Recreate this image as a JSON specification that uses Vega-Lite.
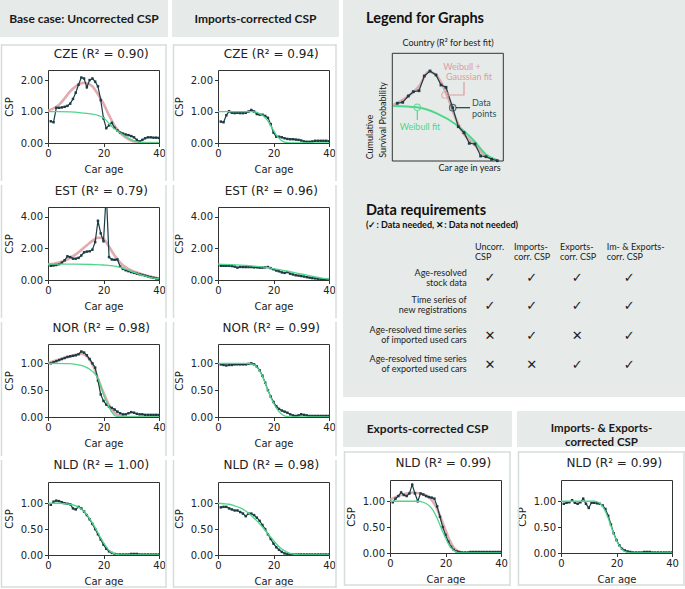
{
"$schema": "https://vega.github.io/schema/vega-lite/v6.json",
"padding": 0,
"background": "white",
"spacing": 4,
"hconcat": [
{"spacing": 0, "vconcat": [
 {"width":120,"height":42,"view":{"stroke":null},"data":{"values":[{"t":"Base case: Uncorrected CSP"}]},
  "encoding":{"y":{"datum":0.5595,"type":"quantitative","scale":{"domain":[0,1],"nice":false},"axis":null}},
  "layer":[
   {"mark":{"type":"rect","color":"#e6ebe9"},"encoding":{"x":{"datum":-48,"type":"quantitative","scale":{"domain":[0,120],"nice":false,"zero":false},"axis":null},"x2":{"datum":120},"y":{"datum":1,"type":"quantitative"},"y2":{"datum":0.119}}},
   {"mark":{"type":"text","font":"Lato","fontWeight":"bold","fontSize":12,"color":"#1a1a1a","baseline":"middle"},"encoding":{"x":{"datum":36,"type":"quantitative"},"text":{"field":"t"}}}
  ]},
 {"width":111,"height":73,
  "encoding":{"x":{"type":"quantitative","scale":{"domain":[0,40],"nice":false},"axis":{"values":[0,20,40],"title":"Car age"}},
   "y":{"type":"quantitative","scale":{"domain":[0,2.32],"nice":false},"axis":{"values":[0,1,2],"format":".2f","title":"CSP"}}},
  "layer":[
   {"data":{"values":[{}]},"mark":{"type":"rule","color":"#d6dedb","strokeWidth":1.5},"encoding":{"x":{"datum":-16.76},"y":{"datum":3.146},"y2":{"datum":-1.208}}},
   {"data":{"values":[{}]},"mark":{"type":"rule","color":"#d6dedb","strokeWidth":1.5},"encoding":{"x":{"datum":42.52},"y":{"datum":3.146},"y2":{"datum":-1.208}}},
   {"data":{"values":[{}]},"mark":{"type":"rule","color":"#d6dedb","strokeWidth":1.5},"encoding":{"x":{"datum":-16.76},"x2":{"datum":42.52},"y":{"datum":3.115}}},
   {"data":{"values":[{}]},"mark":{"type":"text","font":"DejaVu Sans","fontSize":12,"color":"#222222","baseline":"middle"},"encoding":{"x":{"datum":19.2},"y":{"datum":2.844},"text":{"value":"CZE (R² = 0.90)"}}},
   {"data":{"values":[{"a":0,"v":1.03},{"a":2,"v":1.1},{"a":4,"v":1.22},{"a":6,"v":1.42},{"a":8,"v":1.64},{"a":10,"v":1.8},{"a":12,"v":1.9},{"a":13,"v":1.91},{"a":14,"v":1.9},{"a":16,"v":1.8},{"a":18,"v":1.55},{"a":20,"v":1.25},{"a":22,"v":0.88},{"a":24,"v":0.55},{"a":26,"v":0.32},{"a":28,"v":0.18},{"a":30,"v":0.08},{"a":32,"v":0.03},{"a":34,"v":0.01},{"a":36,"v":0},{"a":40,"v":0}]},"mark":{"type":"line","color":"#dc9ca1","strokeWidth":2.6,"opacity":0.85,"clip":true,"interpolate":"monotone"},"encoding":{"x":{"field":"a"},"y":{"field":"v"}}},
   {"data":{"values":[{"a":1,"v":0.69},{"a":2,"v":0.66},{"a":3,"v":1.12},{"a":4,"v":1.12},{"a":5,"v":1.13},{"a":6,"v":1.15},{"a":7,"v":1.18},{"a":8,"v":1.25},{"a":9,"v":1.4},{"a":10,"v":1.6},{"a":11,"v":1.85},{"a":12,"v":2.08},{"a":13,"v":2.05},{"a":14,"v":1.77},{"a":15,"v":2.0},{"a":16,"v":2.05},{"a":17,"v":1.95},{"a":18,"v":1.8},{"a":19,"v":1.36},{"a":20,"v":0.78},{"a":21,"v":0.47},{"a":22,"v":0.56},{"a":23,"v":0.64},{"a":24,"v":0.48},{"a":25,"v":0.4},{"a":26,"v":0.33},{"a":27,"v":0.3},{"a":28,"v":0.27},{"a":29,"v":0.25},{"a":30,"v":0.22},{"a":31,"v":0.18},{"a":32,"v":0.1},{"a":33,"v":0.05},{"a":34,"v":0.1},{"a":35,"v":0.15},{"a":36,"v":0.18},{"a":37,"v":0.18},{"a":38,"v":0.17},{"a":39,"v":0.17},{"a":40,"v":0.16}]},"mark":{"type":"line","color":"#1b3c44","strokeWidth":1.2,"clip":true,"point":{"filled":true,"size":6,"shape":"square","color":"#1b3c44","clip":true}},"encoding":{"x":{"field":"a"},"y":{"field":"v"}}},
   {"data":{"values":[{"a":0,"v":1},{"a":4,"v":1},{"a":8,"v":0.99},{"a":12,"v":0.96},{"a":14,"v":0.94},{"a":16,"v":0.92},{"a":18,"v":0.88},{"a":20,"v":0.8},{"a":22,"v":0.62},{"a":23,"v":0.52},{"a":24,"v":0.45},{"a":26,"v":0.32},{"a":28,"v":0.2},{"a":30,"v":0.11},{"a":32,"v":0.04},{"a":34,"v":0.01},{"a":36,"v":0},{"a":40,"v":0}]},"mark":{"type":"line","color":"#4fd68b","strokeWidth":1.3,"clip":true,"interpolate":"monotone"},"encoding":{"x":{"field":"a"},"y":{"field":"v"}}}
  ]},
 {"width":111,"height":73,
  "encoding":{"x":{"type":"quantitative","scale":{"domain":[0,40],"nice":false},"axis":{"values":[0,20,40],"title":"Car age"}},
   "y":{"type":"quantitative","scale":{"domain":[0,4.62],"nice":false},"axis":{"values":[0,2,4],"format":".2f","title":"CSP"}}},
  "layer":[
   {"data":{"values":[{}]},"mark":{"type":"rule","color":"#d6dedb","strokeWidth":1.5},"encoding":{"x":{"datum":-16.76},"y":{"datum":6.012},"y2":{"datum":-2.405}}},
   {"data":{"values":[{}]},"mark":{"type":"rule","color":"#d6dedb","strokeWidth":1.5},"encoding":{"x":{"datum":42.52},"y":{"datum":6.012},"y2":{"datum":-2.405}}},
   {"data":{"values":[{}]},"mark":{"type":"text","font":"DejaVu Sans","fontSize":12,"color":"#222222","baseline":"middle"},"encoding":{"x":{"datum":19.2},"y":{"datum":5.664},"text":{"value":"EST (R² = 0.79)"}}},
   {"data":{"values":[{"a":0,"v":1.0},{"a":2,"v":1.03},{"a":4,"v":1.1},{"a":6,"v":1.22},{"a":8,"v":1.4},{"a":10,"v":1.62},{"a":12,"v":1.9},{"a":14,"v":2.2},{"a":16,"v":2.48},{"a":18,"v":2.67},{"a":19,"v":2.67},{"a":20,"v":2.6},{"a":22,"v":2.1},{"a":24,"v":1.55},{"a":26,"v":1.1},{"a":28,"v":0.8},{"a":30,"v":0.6},{"a":32,"v":0.47},{"a":34,"v":0.35},{"a":36,"v":0.25},{"a":38,"v":0.17},{"a":40,"v":0.1}]},"mark":{"type":"line","color":"#dc9ca1","strokeWidth":2.6,"opacity":0.85,"clip":true,"interpolate":"monotone"},"encoding":{"x":{"field":"a"},"y":{"field":"v"}}},
   {"data":{"values":[{"a":1,"v":0.9},{"a":2,"v":0.92},{"a":3,"v":0.95},{"a":4,"v":1.0},{"a":5,"v":1.1},{"a":6,"v":1.25},{"a":7,"v":1.5},{"a":8,"v":1.45},{"a":9,"v":1.35},{"a":10,"v":1.35},{"a":11,"v":1.4},{"a":12,"v":1.55},{"a":13,"v":1.75},{"a":14,"v":1.8},{"a":15,"v":1.82},{"a":16,"v":1.92},{"a":17,"v":2.4},{"a":18,"v":3.75},{"a":19,"v":2.95},{"a":20,"v":2.45},{"a":21,"v":5.5},{"a":22,"v":1.45},{"a":23,"v":1.3},{"a":24,"v":1.28},{"a":25,"v":1.3},{"a":26,"v":0.85},{"a":27,"v":0.7},{"a":28,"v":0.62},{"a":29,"v":0.56},{"a":30,"v":0.5},{"a":31,"v":0.45},{"a":32,"v":0.4},{"a":33,"v":0.36},{"a":34,"v":0.32},{"a":35,"v":0.27},{"a":36,"v":0.22},{"a":37,"v":0.18},{"a":38,"v":0.14},{"a":39,"v":0.1},{"a":40,"v":0.06}]},"mark":{"type":"line","color":"#1b3c44","strokeWidth":1.2,"clip":true,"point":{"filled":true,"size":6,"shape":"square","color":"#1b3c44","clip":true}},"encoding":{"x":{"field":"a"},"y":{"field":"v"}}},
   {"data":{"values":[{"a":0,"v":1},{"a":10,"v":1},{"a":16,"v":0.98},{"a":20,"v":0.95},{"a":24,"v":0.88},{"a":26,"v":0.8},{"a":28,"v":0.68},{"a":30,"v":0.55},{"a":32,"v":0.42},{"a":34,"v":0.3},{"a":36,"v":0.2},{"a":38,"v":0.12},{"a":40,"v":0.07}]},"mark":{"type":"line","color":"#4fd68b","strokeWidth":1.3,"clip":true,"interpolate":"monotone"},"encoding":{"x":{"field":"a"},"y":{"field":"v"}}}
  ]},
 {"width":111,"height":73,
  "encoding":{"x":{"type":"quantitative","scale":{"domain":[0,40],"nice":false},"axis":{"values":[0,20,40],"title":"Car age"}},
   "y":{"type":"quantitative","scale":{"domain":[0,1.36],"nice":false},"axis":{"values":[0,0.5,1],"format":".2f","title":"CSP"}}},
  "layer":[
   {"data":{"values":[{}]},"mark":{"type":"rule","color":"#d6dedb","strokeWidth":1.5},"encoding":{"x":{"datum":-16.76},"y":{"datum":1.77},"y2":{"datum":-0.727}}},
   {"data":{"values":[{}]},"mark":{"type":"rule","color":"#d6dedb","strokeWidth":1.5},"encoding":{"x":{"datum":42.52},"y":{"datum":1.77},"y2":{"datum":-0.727}}},
   {"data":{"values":[{}]},"mark":{"type":"text","font":"DejaVu Sans","fontSize":12,"color":"#222222","baseline":"middle"},"encoding":{"x":{"datum":19.2},"y":{"datum":1.667},"text":{"value":"NOR (R² = 0.98)"}}},
   {"data":{"values":[{"a":0,"v":1.01},{"a":4,"v":1.07},{"a":8,"v":1.13},{"a":10,"v":1.16},{"a":12,"v":1.18},{"a":13,"v":1.17},{"a":14,"v":1.13},{"a":15,"v":1.07},{"a":16,"v":0.98},{"a":17,"v":0.87},{"a":18,"v":0.72},{"a":19,"v":0.58},{"a":20,"v":0.45},{"a":21,"v":0.33},{"a":22,"v":0.22},{"a":23,"v":0.14},{"a":24,"v":0.08},{"a":25,"v":0.04},{"a":26,"v":0.02},{"a":27,"v":0.01},{"a":28,"v":0},{"a":40,"v":0}]},"mark":{"type":"line","color":"#dc9ca1","strokeWidth":2.6,"opacity":0.85,"clip":true,"interpolate":"monotone"},"encoding":{"x":{"field":"a"},"y":{"field":"v"}}},
   {"data":{"values":[{"a":1,"v":1.0},{"a":2,"v":1.02},{"a":3,"v":1.04},{"a":4,"v":1.06},{"a":5,"v":1.08},{"a":6,"v":1.1},{"a":7,"v":1.12},{"a":8,"v":1.13},{"a":9,"v":1.14},{"a":10,"v":1.15},{"a":11,"v":1.17},{"a":12,"v":1.22},{"a":13,"v":1.2},{"a":14,"v":1.15},{"a":15,"v":1.08},{"a":16,"v":1.0},{"a":17,"v":0.92},{"a":18,"v":0.68},{"a":19,"v":0.42},{"a":20,"v":0.3},{"a":21,"v":0.23},{"a":22,"v":0.19},{"a":23,"v":0.17},{"a":24,"v":0.14},{"a":25,"v":0.1},{"a":26,"v":0.07},{"a":27,"v":0.05},{"a":28,"v":0.05},{"a":29,"v":0.07},{"a":30,"v":0.09},{"a":31,"v":0.08},{"a":32,"v":0.06},{"a":33,"v":0.05},{"a":34,"v":0.05},{"a":35,"v":0.04},{"a":36,"v":0.04},{"a":37,"v":0.04},{"a":38,"v":0.04},{"a":39,"v":0.04},{"a":40,"v":0.04}]},"mark":{"type":"line","color":"#1b3c44","strokeWidth":1.2,"clip":true,"point":{"filled":true,"size":6,"shape":"square","color":"#1b3c44","clip":true}},"encoding":{"x":{"field":"a"},"y":{"field":"v"}}},
   {"data":{"values":[{"a":0,"v":1},{"a":8,"v":0.995},{"a":10,"v":0.98},{"a":12,"v":0.96},{"a":14,"v":0.92},{"a":15,"v":0.89},{"a":16,"v":0.85},{"a":17,"v":0.8},{"a":18,"v":0.72},{"a":19,"v":0.58},{"a":20,"v":0.42},{"a":21,"v":0.3},{"a":22,"v":0.18},{"a":23,"v":0.09},{"a":24,"v":0.03},{"a":25,"v":0.01},{"a":26,"v":0},{"a":40,"v":0}]},"mark":{"type":"line","color":"#4fd68b","strokeWidth":1.3,"clip":true,"interpolate":"monotone"},"encoding":{"x":{"field":"a"},"y":{"field":"v"}}}
  ]},
 {"width":111,"height":73,
  "encoding":{"x":{"type":"quantitative","scale":{"domain":[0,40],"nice":false},"axis":{"values":[0,20,40],"title":"Car age"}},
   "y":{"type":"quantitative","scale":{"domain":[0,1.41],"nice":false},"axis":{"values":[0,0.5,1],"format":".2f","title":"CSP"}}},
  "layer":[
   {"data":{"values":[{}]},"mark":{"type":"rule","color":"#d6dedb","strokeWidth":1.5},"encoding":{"x":{"datum":-16.76},"y":{"datum":1.835},"y2":{"datum":-0.637}}},
   {"data":{"values":[{}]},"mark":{"type":"rule","color":"#d6dedb","strokeWidth":1.5},"encoding":{"x":{"datum":42.52},"y":{"datum":1.835},"y2":{"datum":-0.637}}},
   {"data":{"values":[{}]},"mark":{"type":"rule","color":"#d6dedb","strokeWidth":1.5},"encoding":{"x":{"datum":-16.76},"x2":{"datum":42.52},"y":{"datum":-0.618}}},
   {"data":{"values":[{}]},"mark":{"type":"text","font":"DejaVu Sans","fontSize":12,"color":"#222222","baseline":"middle"},"encoding":{"x":{"datum":19.2},"y":{"datum":1.729},"text":{"value":"NLD (R² = 1.00)"}}},
   {"data":{"values":[{"a":1,"v":0.97},{"a":2,"v":1.03},{"a":3,"v":1.05},{"a":4,"v":1.04},{"a":5,"v":1.02},{"a":6,"v":1.0},{"a":7,"v":0.99},{"a":8,"v":0.98},{"a":9,"v":0.9},{"a":10,"v":0.88},{"a":11,"v":0.93},{"a":12,"v":0.9},{"a":13,"v":0.84},{"a":14,"v":0.77},{"a":15,"v":0.69},{"a":16,"v":0.6},{"a":17,"v":0.5},{"a":18,"v":0.4},{"a":19,"v":0.3},{"a":20,"v":0.2},{"a":21,"v":0.12},{"a":22,"v":0.07},{"a":23,"v":0.04},{"a":24,"v":0.02},{"a":25,"v":0.01},{"a":26,"v":0.01},{"a":27,"v":0.01},{"a":28,"v":0.01},{"a":29,"v":0.01},{"a":30,"v":0.02},{"a":31,"v":0.02},{"a":32,"v":0.02},{"a":33,"v":0.01},{"a":34,"v":0.01},{"a":35,"v":0.01},{"a":36,"v":0.01},{"a":37,"v":0.01},{"a":38,"v":0.01},{"a":39,"v":0.01},{"a":40,"v":0.01}]},"mark":{"type":"line","color":"#1b3c44","strokeWidth":1.2,"clip":true,"point":{"filled":true,"size":6,"shape":"square","color":"#1b3c44","clip":true}},"encoding":{"x":{"field":"a"},"y":{"field":"v"}}},
   {"data":{"values":[{"a":0,"v":1},{"a":4,"v":1},{"a":6,"v":0.99},{"a":8,"v":0.98},{"a":10,"v":0.95},{"a":12,"v":0.89},{"a":14,"v":0.78},{"a":16,"v":0.62},{"a":17,"v":0.53},{"a":18,"v":0.43},{"a":19,"v":0.33},{"a":20,"v":0.24},{"a":21,"v":0.16},{"a":22,"v":0.09},{"a":23,"v":0.05},{"a":24,"v":0.02},{"a":25,"v":0.01},{"a":26,"v":0},{"a":40,"v":0}]},"mark":{"type":"line","color":"#4fd68b","strokeWidth":1.3,"clip":true,"interpolate":"monotone"},"encoding":{"x":{"field":"a"},"y":{"field":"v"}}}
  ]}
]},
{"spacing": 0, "vconcat": [
 {"width":121,"height":42,"view":{"stroke":null},"data":{"values":[{"t":"Imports-corrected CSP"}]},
  "encoding":{"y":{"datum":0.5595,"type":"quantitative","scale":{"domain":[0,1],"nice":false},"axis":null}},
  "layer":[
   {"mark":{"type":"rect","color":"#e6ebe9"},"encoding":{"x":{"datum":-46,"type":"quantitative","scale":{"domain":[0,121],"nice":false,"zero":false},"axis":null},"x2":{"datum":121},"y":{"datum":1,"type":"quantitative"},"y2":{"datum":0.119}}},
   {"mark":{"type":"text","font":"Lato","fontWeight":"bold","fontSize":12,"color":"#1a1a1a","baseline":"middle"},"encoding":{"x":{"datum":37.5,"type":"quantitative"},"text":{"field":"t"}}}
  ]},
 {"width":111,"height":73,
  "encoding":{"x":{"type":"quantitative","scale":{"domain":[0,40],"nice":false},"axis":{"values":[0,20,40],"title":"Car age"}},
   "y":{"type":"quantitative","scale":{"domain":[0,2.32],"nice":false},"axis":{"values":[0,1,2],"format":".2f","title":"CSP"}}},
  "layer":[
   {"data":{"values":[{}]},"mark":{"type":"rule","color":"#d6dedb","strokeWidth":1.5},"encoding":{"x":{"datum":-16.04},"y":{"datum":3.146},"y2":{"datum":-1.208}}},
   {"data":{"values":[{}]},"mark":{"type":"rule","color":"#d6dedb","strokeWidth":1.5},"encoding":{"x":{"datum":42.52},"y":{"datum":3.146},"y2":{"datum":-1.208}}},
   {"data":{"values":[{}]},"mark":{"type":"rule","color":"#d6dedb","strokeWidth":1.5},"encoding":{"x":{"datum":-16.04},"x2":{"datum":42.52},"y":{"datum":3.115}}},
   {"data":{"values":[{}]},"mark":{"type":"text","font":"DejaVu Sans","fontSize":12,"color":"#222222","baseline":"middle"},"encoding":{"x":{"datum":19.2},"y":{"datum":2.844},"text":{"value":"CZE (R² = 0.94)"}}},
   {"data":{"values":[{"a":1,"v":0.68},{"a":2,"v":0.66},{"a":3,"v":0.88},{"a":4,"v":1.01},{"a":5,"v":0.96},{"a":6,"v":0.95},{"a":7,"v":0.96},{"a":8,"v":0.95},{"a":9,"v":0.95},{"a":10,"v":0.96},{"a":11,"v":1.0},{"a":12,"v":1.05},{"a":13,"v":1.0},{"a":14,"v":0.92},{"a":15,"v":0.9},{"a":16,"v":0.9},{"a":17,"v":0.86},{"a":18,"v":0.8},{"a":19,"v":0.6},{"a":20,"v":0.33},{"a":21,"v":0.2},{"a":22,"v":0.2},{"a":23,"v":0.18},{"a":24,"v":0.15},{"a":25,"v":0.13},{"a":26,"v":0.12},{"a":27,"v":0.12},{"a":28,"v":0.11},{"a":29,"v":0.1},{"a":30,"v":0.08},{"a":31,"v":0.05},{"a":32,"v":0.04},{"a":33,"v":0.04},{"a":34,"v":0.05},{"a":35,"v":0.07},{"a":36,"v":0.07},{"a":37,"v":0.07},{"a":38,"v":0.07},{"a":39,"v":0.07},{"a":40,"v":0.06}]},"mark":{"type":"line","color":"#1b3c44","strokeWidth":1.2,"clip":true,"point":{"filled":true,"size":6,"shape":"square","color":"#1b3c44","clip":true}},"encoding":{"x":{"field":"a"},"y":{"field":"v"}}},
   {"data":{"values":[{"a":0,"v":1},{"a":8,"v":1},{"a":12,"v":1},{"a":14,"v":0.97},{"a":15,"v":0.93},{"a":16,"v":0.88},{"a":17,"v":0.8},{"a":18,"v":0.7},{"a":19,"v":0.55},{"a":20,"v":0.4},{"a":21,"v":0.26},{"a":22,"v":0.15},{"a":23,"v":0.07},{"a":24,"v":0.03},{"a":25,"v":0.01},{"a":26,"v":0},{"a":40,"v":0}]},"mark":{"type":"line","color":"#4fd68b","strokeWidth":1.3,"clip":true,"interpolate":"monotone"},"encoding":{"x":{"field":"a"},"y":{"field":"v"}}}
  ]},
 {"width":111,"height":73,
  "encoding":{"x":{"type":"quantitative","scale":{"domain":[0,40],"nice":false},"axis":{"values":[0,20,40],"title":"Car age"}},
   "y":{"type":"quantitative","scale":{"domain":[0,4.62],"nice":false},"axis":{"values":[0,2,4],"format":".2f","title":"CSP"}}},
  "layer":[
   {"data":{"values":[{}]},"mark":{"type":"rule","color":"#d6dedb","strokeWidth":1.5},"encoding":{"x":{"datum":-16.04},"y":{"datum":6.012},"y2":{"datum":-2.405}}},
   {"data":{"values":[{}]},"mark":{"type":"rule","color":"#d6dedb","strokeWidth":1.5},"encoding":{"x":{"datum":42.52},"y":{"datum":6.012},"y2":{"datum":-2.405}}},
   {"data":{"values":[{}]},"mark":{"type":"text","font":"DejaVu Sans","fontSize":12,"color":"#222222","baseline":"middle"},"encoding":{"x":{"datum":19.2},"y":{"datum":5.664},"text":{"value":"EST (R² = 0.96)"}}},
   {"data":{"values":[{"a":1,"v":0.9},{"a":2,"v":0.9},{"a":3,"v":0.9},{"a":4,"v":0.9},{"a":5,"v":0.88},{"a":6,"v":0.85},{"a":7,"v":0.78},{"a":8,"v":0.83},{"a":9,"v":0.82},{"a":10,"v":0.82},{"a":11,"v":0.82},{"a":12,"v":0.82},{"a":13,"v":0.8},{"a":14,"v":0.8},{"a":15,"v":0.78},{"a":16,"v":0.78},{"a":17,"v":0.8},{"a":18,"v":0.82},{"a":19,"v":0.75},{"a":20,"v":0.68},{"a":21,"v":0.6},{"a":22,"v":0.55},{"a":23,"v":0.48},{"a":24,"v":0.45},{"a":25,"v":0.5},{"a":26,"v":0.4},{"a":27,"v":0.35},{"a":28,"v":0.3},{"a":29,"v":0.28},{"a":30,"v":0.25},{"a":31,"v":0.22},{"a":32,"v":0.18},{"a":33,"v":0.15},{"a":34,"v":0.12},{"a":35,"v":0.1},{"a":36,"v":0.08},{"a":37,"v":0.05},{"a":38,"v":0.04},{"a":39,"v":0.03},{"a":40,"v":0.02}]},"mark":{"type":"line","color":"#1b3c44","strokeWidth":1.2,"clip":true,"point":{"filled":true,"size":6,"shape":"square","color":"#1b3c44","clip":true}},"encoding":{"x":{"field":"a"},"y":{"field":"v"}}},
   {"data":{"values":[{"a":0,"v":1.0},{"a":5,"v":0.97},{"a":10,"v":0.92},{"a":15,"v":0.84},{"a":20,"v":0.72},{"a":25,"v":0.56},{"a":30,"v":0.38},{"a":35,"v":0.2},{"a":38,"v":0.1},{"a":40,"v":0.05}]},"mark":{"type":"line","color":"#4fd68b","strokeWidth":1.3,"clip":true,"interpolate":"monotone"},"encoding":{"x":{"field":"a"},"y":{"field":"v"}}}
  ]},
 {"width":111,"height":73,
  "encoding":{"x":{"type":"quantitative","scale":{"domain":[0,40],"nice":false},"axis":{"values":[0,20,40],"title":"Car age"}},
   "y":{"type":"quantitative","scale":{"domain":[0,1.36],"nice":false},"axis":{"values":[0,0.5,1],"format":".2f","title":"CSP"}}},
  "layer":[
   {"data":{"values":[{}]},"mark":{"type":"rule","color":"#d6dedb","strokeWidth":1.5},"encoding":{"x":{"datum":-16.04},"y":{"datum":1.77},"y2":{"datum":-0.727}}},
   {"data":{"values":[{}]},"mark":{"type":"rule","color":"#d6dedb","strokeWidth":1.5},"encoding":{"x":{"datum":42.52},"y":{"datum":1.77},"y2":{"datum":-0.727}}},
   {"data":{"values":[{}]},"mark":{"type":"text","font":"DejaVu Sans","fontSize":12,"color":"#222222","baseline":"middle"},"encoding":{"x":{"datum":19.2},"y":{"datum":1.667},"text":{"value":"NOR (R² = 0.99)"}}},
   {"data":{"values":[{"a":1,"v":0.98},{"a":2,"v":0.97},{"a":3,"v":0.96},{"a":4,"v":0.97},{"a":5,"v":0.97},{"a":6,"v":0.98},{"a":7,"v":0.98},{"a":8,"v":0.98},{"a":9,"v":0.98},{"a":10,"v":0.98},{"a":11,"v":0.99},{"a":12,"v":1.0},{"a":13,"v":0.98},{"a":14,"v":0.94},{"a":15,"v":0.87},{"a":16,"v":0.77},{"a":17,"v":0.64},{"a":18,"v":0.5},{"a":19,"v":0.38},{"a":20,"v":0.28},{"a":21,"v":0.2},{"a":22,"v":0.15},{"a":23,"v":0.12},{"a":24,"v":0.1},{"a":25,"v":0.08},{"a":26,"v":0.05},{"a":27,"v":0.03},{"a":28,"v":0.02},{"a":29,"v":0.03},{"a":30,"v":0.05},{"a":31,"v":0.04},{"a":32,"v":0.03},{"a":33,"v":0.02},{"a":34,"v":0.02},{"a":35,"v":0.02},{"a":36,"v":0.02},{"a":37,"v":0.02},{"a":38,"v":0.02},{"a":39,"v":0.02},{"a":40,"v":0.02}]},"mark":{"type":"line","color":"#1b3c44","strokeWidth":1.2,"clip":true,"point":{"filled":true,"size":6,"shape":"square","color":"#1b3c44","clip":true}},"encoding":{"x":{"field":"a"},"y":{"field":"v"}}},
   {"data":{"values":[{"a":0,"v":1},{"a":10,"v":1},{"a":12,"v":0.99},{"a":13,"v":0.97},{"a":14,"v":0.93},{"a":15,"v":0.86},{"a":16,"v":0.76},{"a":17,"v":0.63},{"a":18,"v":0.5},{"a":19,"v":0.37},{"a":20,"v":0.26},{"a":21,"v":0.17},{"a":22,"v":0.1},{"a":23,"v":0.05},{"a":24,"v":0.02},{"a":25,"v":0.01},{"a":26,"v":0},{"a":40,"v":0}]},"mark":{"type":"line","color":"#4fd68b","strokeWidth":1.3,"clip":true,"interpolate":"monotone"},"encoding":{"x":{"field":"a"},"y":{"field":"v"}}}
  ]},
 {"width":111,"height":73,
  "encoding":{"x":{"type":"quantitative","scale":{"domain":[0,40],"nice":false},"axis":{"values":[0,20,40],"title":"Car age"}},
   "y":{"type":"quantitative","scale":{"domain":[0,1.41],"nice":false},"axis":{"values":[0,0.5,1],"format":".2f","title":"CSP"}}},
  "layer":[
   {"data":{"values":[{}]},"mark":{"type":"rule","color":"#d6dedb","strokeWidth":1.5},"encoding":{"x":{"datum":-16.04},"y":{"datum":1.835},"y2":{"datum":-0.637}}},
   {"data":{"values":[{}]},"mark":{"type":"rule","color":"#d6dedb","strokeWidth":1.5},"encoding":{"x":{"datum":42.52},"y":{"datum":1.835},"y2":{"datum":-0.637}}},
   {"data":{"values":[{}]},"mark":{"type":"rule","color":"#d6dedb","strokeWidth":1.5},"encoding":{"x":{"datum":-16.04},"x2":{"datum":42.52},"y":{"datum":-0.618}}},
   {"data":{"values":[{}]},"mark":{"type":"text","font":"DejaVu Sans","fontSize":12,"color":"#222222","baseline":"middle"},"encoding":{"x":{"datum":19.2},"y":{"datum":1.729},"text":{"value":"NLD (R² = 0.98)"}}},
   {"data":{"values":[{"a":1,"v":0.92},{"a":2,"v":0.93},{"a":3,"v":0.93},{"a":4,"v":0.9},{"a":5,"v":0.88},{"a":6,"v":0.86},{"a":7,"v":0.86},{"a":8,"v":0.83},{"a":9,"v":0.8},{"a":10,"v":0.75},{"a":11,"v":0.8},{"a":12,"v":0.8},{"a":13,"v":0.77},{"a":14,"v":0.72},{"a":15,"v":0.66},{"a":16,"v":0.58},{"a":17,"v":0.5},{"a":18,"v":0.4},{"a":19,"v":0.31},{"a":20,"v":0.22},{"a":21,"v":0.15},{"a":22,"v":0.1},{"a":23,"v":0.06},{"a":24,"v":0.03},{"a":25,"v":0.02},{"a":26,"v":0.01},{"a":27,"v":0.01},{"a":28,"v":0.01},{"a":29,"v":0.01},{"a":30,"v":0.01},{"a":31,"v":0.01},{"a":32,"v":0.01},{"a":33,"v":0.01},{"a":34,"v":0.01},{"a":35,"v":0.01},{"a":36,"v":0.01},{"a":37,"v":0.01},{"a":38,"v":0.01},{"a":39,"v":0.01},{"a":40,"v":0.01}]},"mark":{"type":"line","color":"#1b3c44","strokeWidth":1.2,"clip":true,"point":{"filled":true,"size":6,"shape":"square","color":"#1b3c44","clip":true}},"encoding":{"x":{"field":"a"},"y":{"field":"v"}}},
   {"data":{"values":[{"a":0,"v":1.0},{"a":2,"v":0.99},{"a":4,"v":0.98},{"a":6,"v":0.95},{"a":8,"v":0.91},{"a":10,"v":0.85},{"a":12,"v":0.76},{"a":14,"v":0.66},{"a":16,"v":0.54},{"a":18,"v":0.41},{"a":20,"v":0.28},{"a":22,"v":0.16},{"a":24,"v":0.08},{"a":26,"v":0.03},{"a":28,"v":0.01},{"a":30,"v":0},{"a":40,"v":0}]},"mark":{"type":"line","color":"#4fd68b","strokeWidth":1.3,"clip":true,"interpolate":"monotone"},"encoding":{"x":{"field":"a"},"y":{"field":"v"}}}
  ]}
]},
{"spacing": 14, "vconcat": [
 {"width":295,"height":397,"view":{"stroke":null},
  "encoding":{"x":{"field":"x","type":"quantitative","scale":{"domain":[47,342],"nice":false,"zero":false},"axis":null},
   "y":{"field":"y","type":"quantitative","scale":{"domain":[0,397],"nice":false,"zero":false,"reverse":true},"axis":null}},
  "layer":[
   {"data":{"values":[{"x":0,"y":0,"x2":342,"y2":397}]},"mark":{"type":"rect","color":"#e6ebe9"},"encoding":{"x2":{"field":"x2"},"y2":{"field":"y2"}}},
   {"data":{"values":[{"x":49.3,"y":53.3,"x2":160.3,"y2":161}]},"mark":{"type":"rect","filled":false,"stroke":"#333333","strokeWidth":1},"encoding":{"x2":{"field":"x2"},"y2":{"field":"y2"}}},
   {"data":{"values":[{"x":50.3,"y":105},{"x":63.7,"y":97.3},{"x":77,"y":85},{"x":85.3,"y":71.7},{"x":92,"y":74},{"x":98.7,"y":83.3},{"x":105.3,"y":98.3},{"x":112,"y":116.7},{"x":120.3,"y":133.3},{"x":130.3,"y":143.3},{"x":140.3,"y":154},{"x":153.7,"y":160.7}]},"mark":{"type":"line","color":"#dc9ca1","strokeWidth":2.6,"opacity":0.85,"interpolate":"monotone"}},
   {"data":{"values":[{"x":50.3,"y":106},{"x":73.7,"y":107.3},{"x":93.7,"y":113.3},{"x":113.7,"y":125},{"x":130.3,"y":140},{"x":143.7,"y":155},{"x":153.7,"y":160}]},"mark":{"type":"line","color":"#4fd68b","strokeWidth":2,"interpolate":"monotone"}},
   {"data":{"values":[{"x":54.3,"y":103.3},{"x":59.7,"y":102.3},{"x":65.3,"y":96},{"x":70.3,"y":91.7},{"x":76,"y":90.7},{"x":81.3,"y":76},{"x":87,"y":71},{"x":93,"y":75},{"x":98,"y":85},{"x":103,"y":87.3},{"x":109.7,"y":107.7},{"x":115.3,"y":126.7},{"x":121,"y":132.7},{"x":126.3,"y":143.3},{"x":132,"y":144},{"x":137.7,"y":156},{"x":143,"y":156.7},{"x":148.7,"y":159.3},{"x":154.3,"y":160.7}]},"mark":{"type":"line","color":"#1b3c44","strokeWidth":1.2,"point":{"filled":true,"size":8,"shape":"square","color":"#1b3c44"}}},
   {"data":{"values":[{"k":"p","i":0,"x":105.5,"y":95},{"k":"p","i":1,"x":121,"y":95},{"k":"p","i":2,"x":121,"y":82},{"k":"d","i":0,"x":112.8,"y":107.7},{"k":"d","i":1,"x":127,"y":107.7},{"k":"g","i":0,"x":74.3,"y":110.7},{"k":"g","i":1,"x":74.3,"y":120}]},"mark":{"type":"line","strokeWidth":1.2},"encoding":{"color":{"field":"k","type":"nominal","scale":{"domain":["p","d","g"],"range":["#dc9ca1","#1b3c44","#4fd68b"]},"legend":null},"order":{"field":"i"}}},
   {"data":{"values":[{"k":"p","x":102,"y":95},{"k":"d","x":109.7,"y":107.7},{"k":"g","x":74.3,"y":107.3}]},"mark":{"type":"point","shape":"circle","filled":false,"size":42,"strokeWidth":1.2},"encoding":{"color":{"field":"k","type":"nominal","legend":null}}},
   {"data":{"values":[{"x":23,"y":19,"t":"Legend for Graphs"},{"x":23,"y":211,"t":"Data requirements"}]},"mark":{"type":"text","align":"left","baseline":"middle","font":"Lato","fontWeight":"bold","fontSize":14.5,"color":"#111111"},"encoding":{"text":{"field":"t"}}},
   {"data":{"values":[{"x":23,"y":225,"t":"(✓: Data needed, ✕: Data not needed)"}]},"mark":{"type":"text","align":"left","baseline":"middle","font":"Lato","fontWeight":"bold","fontSize":9,"color":"#111111"},"encoding":{"text":{"field":"t"}}},
   {"data":{"values":[{"x":105,"y":43,"t":"Country (R² for best fit)"},{"x":126.5,"y":168,"t":"Car age in years"}]},"mark":{"type":"text","align":"center","baseline":"middle","font":"Lato","fontSize":9,"color":"#222222"},"encoding":{"text":{"field":"t"}}},
   {"data":{"values":[{"x":27,"y":137,"t":"Cumulative"},{"x":40,"y":120,"t":"Survival Probability"}]},"mark":{"type":"text","align":"center","baseline":"middle","angle":270,"font":"Lato","fontSize":9,"color":"#222222"},"encoding":{"text":{"field":"t"}}},
   {"data":{"values":[{"x":119,"y":67,"t":"Weibull +"},{"x":126,"y":77,"t":"Gaussian fit"}]},"mark":{"type":"text","align":"center","baseline":"middle","font":"Lato","fontSize":9,"color":"#dc9ca1"},"encoding":{"text":{"field":"t"}}},
   {"data":{"values":[{"x":129,"y":103,"t":"Data"},{"x":129,"y":114,"t":"points"}]},"mark":{"type":"text","align":"left","baseline":"middle","font":"Lato","fontSize":9,"color":"#2a5560"},"encoding":{"text":{"field":"t"}}},
   {"data":{"values":[{"x":77,"y":127,"t":"Weibull fit"}]},"mark":{"type":"text","align":"center","baseline":"middle","font":"Lato","fontSize":9,"color":"#4fd68b"},"encoding":{"text":{"field":"t"}}},
   {"data":{"values":[{"x":132,"y":246.7,"t":"Uncorr."},{"x":132,"y":256.7,"t":"CSP"},{"x":171,"y":246.7,"t":"Imports-"},{"x":171,"y":256.7,"t":"corr. CSP"},{"x":217,"y":246.7,"t":"Exports-"},{"x":217,"y":256.7,"t":"corr. CSP"},{"x":263.7,"y":246.7,"t":"Im- & Exports-"},{"x":263.7,"y":256.7,"t":"corr. CSP"}]},"mark":{"type":"text","align":"left","baseline":"middle","font":"Lato","fontSize":9,"color":"#222222"},"encoding":{"text":{"field":"t"}}},
   {"data":{"values":[{"x":123.7,"y":273.3,"t":"Age-resolved"},{"x":123.7,"y":283.3,"t":"stock data"},{"x":123.7,"y":300,"t":"Time series of"},{"x":123.7,"y":310,"t":"new registrations"},{"x":123.7,"y":329.5,"t":"Age-resolved time series"},{"x":123.7,"y":340,"t":"of imported used cars"},{"x":123.7,"y":358.5,"t":"Age-resolved time series"},{"x":123.7,"y":369,"t":"of exported used cars"}]},"mark":{"type":"text","align":"right","baseline":"middle","font":"Lato","fontSize":9,"color":"#222222"},"encoding":{"text":{"field":"t"}}},
   {"data":{"values":[{"x":147,"y":278.3,"t":"✓"},{"x":188.7,"y":278.3,"t":"✓"},{"x":234.3,"y":278.3,"t":"✓"},{"x":286.3,"y":278.3,"t":"✓"},{"x":147,"y":306,"t":"✓"},{"x":188.7,"y":306,"t":"✓"},{"x":234.3,"y":306,"t":"✓"},{"x":286.3,"y":306,"t":"✓"},{"x":147,"y":336,"t":"✕"},{"x":188.7,"y":336,"t":"✓"},{"x":234.3,"y":336,"t":"✕"},{"x":286.3,"y":336,"t":"✓"},{"x":147,"y":365,"t":"✕"},{"x":188.7,"y":365,"t":"✕"},{"x":234.3,"y":365,"t":"✓"},{"x":286.3,"y":365,"t":"✓"}]},"mark":{"type":"text","align":"center","baseline":"middle","font":"DejaVu Sans","fontSize":13,"color":"#222222"},"encoding":{"text":{"field":"t"}}}
  ]},
 {"spacing": 4, "hconcat": [
  {"spacing": 0, "vconcat": [
   {"width":122,"height":38,"view":{"stroke":null},"data":{"values":[{"t":"Exports-corrected CSP"}]},
    "encoding":{"y":{"datum":0.526,"type":"quantitative","scale":{"domain":[0,1],"nice":false},"axis":null}},
    "layer":[
     {"mark":{"type":"rect","color":"#e6ebe9"},"encoding":{"x":{"datum":-47,"type":"quantitative","scale":{"domain":[0,122],"nice":false,"zero":false},"axis":null},"x2":{"datum":122},"y":{"datum":1,"type":"quantitative"},"y2":{"datum":0.0526}}},
     {"mark":{"type":"text","font":"Lato","fontWeight":"bold","fontSize":12,"color":"#1a1a1a","baseline":"middle"},"encoding":{"x":{"datum":37.5,"type":"quantitative"},"text":{"field":"t"}}}
    ]},
   {"width":111,"height":73,
    "encoding":{"x":{"type":"quantitative","scale":{"domain":[0,40],"nice":false},"axis":{"values":[0,20,40],"title":"Car age"}},
     "y":{"type":"quantitative","scale":{"domain":[0,1.41],"nice":false},"axis":{"values":[0,0.5,1],"format":".2f","title":"CSP"}}},
    "layer":[
     {"data":{"values":[{}]},"mark":{"type":"rule","color":"#d6dedb","strokeWidth":1.5},"encoding":{"x":{"datum":-16.4},"y":{"datum":1.97},"y2":{"datum":-0.637}}},
     {"data":{"values":[{}]},"mark":{"type":"rule","color":"#d6dedb","strokeWidth":1.5},"encoding":{"x":{"datum":43.24},"y":{"datum":1.97},"y2":{"datum":-0.637}}},
     {"data":{"values":[{}]},"mark":{"type":"rule","color":"#d6dedb","strokeWidth":1.5},"encoding":{"x":{"datum":-16.4},"x2":{"datum":43.24},"y":{"datum":1.951}}},
     {"data":{"values":[{}]},"mark":{"type":"rule","color":"#d6dedb","strokeWidth":1.5},"encoding":{"x":{"datum":-16.4},"x2":{"datum":43.24},"y":{"datum":-0.618}}},
     {"data":{"values":[{}]},"mark":{"type":"text","font":"DejaVu Sans","fontSize":12,"color":"#222222","baseline":"middle"},"encoding":{"x":{"datum":19.2},"y":{"datum":1.729},"text":{"value":"NLD (R² = 0.99)"}}},
     {"data":{"values":[{"a":0,"v":1.03},{"a":2,"v":1.08},{"a":4,"v":1.12},{"a":6,"v":1.15},{"a":8,"v":1.17},{"a":10,"v":1.16},{"a":12,"v":1.13},{"a":14,"v":1.08},{"a":16,"v":0.95},{"a":17,"v":0.85},{"a":18,"v":0.72},{"a":19,"v":0.58},{"a":20,"v":0.44},{"a":21,"v":0.3},{"a":22,"v":0.19},{"a":23,"v":0.1},{"a":24,"v":0.05},{"a":25,"v":0.02},{"a":26,"v":0.01},{"a":27,"v":0},{"a":40,"v":0}]},"mark":{"type":"line","color":"#dc9ca1","strokeWidth":2.6,"opacity":0.85,"clip":true,"interpolate":"monotone"},"encoding":{"x":{"field":"a"},"y":{"field":"v"}}},
     {"data":{"values":[{"a":1,"v":0.98},{"a":2,"v":1.05},{"a":3,"v":1.1},{"a":4,"v":1.17},{"a":5,"v":1.12},{"a":6,"v":1.1},{"a":7,"v":1.15},{"a":8,"v":1.32},{"a":9,"v":1.15},{"a":10,"v":1.0},{"a":11,"v":1.15},{"a":12,"v":1.13},{"a":13,"v":1.1},{"a":14,"v":1.08},{"a":15,"v":1.07},{"a":16,"v":1.05},{"a":17,"v":0.9},{"a":18,"v":0.7},{"a":19,"v":0.5},{"a":20,"v":0.35},{"a":21,"v":0.22},{"a":22,"v":0.12},{"a":23,"v":0.06},{"a":24,"v":0.03},{"a":25,"v":0.02},{"a":26,"v":0.01},{"a":27,"v":0.01},{"a":28,"v":0.01},{"a":29,"v":0.02},{"a":30,"v":0.02},{"a":31,"v":0.02},{"a":32,"v":0.02},{"a":33,"v":0.02},{"a":34,"v":0.02},{"a":35,"v":0.02},{"a":36,"v":0.02},{"a":37,"v":0.02},{"a":38,"v":0.02},{"a":39,"v":0.02},{"a":40,"v":0.02}]},"mark":{"type":"line","color":"#1b3c44","strokeWidth":1.2,"clip":true,"point":{"filled":true,"size":6,"shape":"square","color":"#1b3c44","clip":true}},"encoding":{"x":{"field":"a"},"y":{"field":"v"}}},
     {"data":{"values":[{"a":0,"v":1},{"a":10,"v":1},{"a":12,"v":0.98},{"a":14,"v":0.92},{"a":15,"v":0.86},{"a":16,"v":0.78},{"a":17,"v":0.67},{"a":18,"v":0.54},{"a":19,"v":0.41},{"a":20,"v":0.29},{"a":21,"v":0.18},{"a":22,"v":0.1},{"a":23,"v":0.05},{"a":24,"v":0.02},{"a":25,"v":0},{"a":40,"v":0}]},"mark":{"type":"line","color":"#4fd68b","strokeWidth":1.3,"clip":true,"interpolate":"monotone"},"encoding":{"x":{"field":"a"},"y":{"field":"v"}}}
    ]}
  ]},
  {"spacing": 0, "vconcat": [
   {"width":125,"height":38,"view":{"stroke":null},"data":{"values":[{"t":"Imports- & Exports-\ncorrected CSP"}]},
    "encoding":{"y":{"datum":0.526,"type":"quantitative","scale":{"domain":[0,1],"nice":false},"axis":null}},
    "layer":[
     {"mark":{"type":"rect","color":"#e6ebe9"},"encoding":{"x":{"datum":-44,"type":"quantitative","scale":{"domain":[0,125],"nice":false,"zero":false},"axis":null},"x2":{"datum":125},"y":{"datum":1,"type":"quantitative"},"y2":{"datum":0.0526}}},
     {"mark":{"type":"text","font":"Lato","fontWeight":"bold","fontSize":11.5,"color":"#1a1a1a","baseline":"middle","lineBreak":"\n","lineHeight":13.5},"encoding":{"x":{"datum":40.5,"type":"quantitative"},"text":{"field":"t"}}}
    ]},
   {"width":111,"height":73,
    "encoding":{"x":{"type":"quantitative","scale":{"domain":[0,40],"nice":false},"axis":{"values":[0,20,40],"title":"Car age"}},
     "y":{"type":"quantitative","scale":{"domain":[0,1.41],"nice":false},"axis":{"values":[0,0.5,1],"format":".2f","title":"CSP"}}},
    "layer":[
     {"data":{"values":[{}]},"mark":{"type":"rule","color":"#d6dedb","strokeWidth":1.5},"encoding":{"x":{"datum":-15.32},"y":{"datum":1.97},"y2":{"datum":-0.637}}},
     {"data":{"values":[{}]},"mark":{"type":"rule","color":"#d6dedb","strokeWidth":1.5},"encoding":{"x":{"datum":44.32},"y":{"datum":1.97},"y2":{"datum":-0.637}}},
     {"data":{"values":[{}]},"mark":{"type":"rule","color":"#d6dedb","strokeWidth":1.5},"encoding":{"x":{"datum":-15.32},"x2":{"datum":44.32},"y":{"datum":1.951}}},
     {"data":{"values":[{}]},"mark":{"type":"rule","color":"#d6dedb","strokeWidth":1.5},"encoding":{"x":{"datum":-15.32},"x2":{"datum":44.32},"y":{"datum":-0.618}}},
     {"data":{"values":[{}]},"mark":{"type":"text","font":"DejaVu Sans","fontSize":12,"color":"#222222","baseline":"middle"},"encoding":{"x":{"datum":19.2},"y":{"datum":1.729},"text":{"value":"NLD (R² = 0.99)"}}},
     {"data":{"values":[{"a":1,"v":0.95},{"a":2,"v":0.97},{"a":3,"v":0.98},{"a":4,"v":1.02},{"a":5,"v":0.97},{"a":6,"v":0.95},{"a":7,"v":0.98},{"a":8,"v":1.05},{"a":9,"v":0.95},{"a":10,"v":0.87},{"a":11,"v":0.97},{"a":12,"v":0.97},{"a":13,"v":0.96},{"a":14,"v":0.95},{"a":15,"v":0.92},{"a":16,"v":0.85},{"a":17,"v":0.72},{"a":18,"v":0.55},{"a":19,"v":0.38},{"a":20,"v":0.25},{"a":21,"v":0.15},{"a":22,"v":0.08},{"a":23,"v":0.05},{"a":24,"v":0.03},{"a":25,"v":0.02},{"a":26,"v":0.01},{"a":27,"v":0.01},{"a":28,"v":0.01},{"a":29,"v":0.01},{"a":30,"v":0.02},{"a":31,"v":0.02},{"a":32,"v":0.02},{"a":33,"v":0.01},{"a":34,"v":0.01},{"a":35,"v":0.01},{"a":36,"v":0.01},{"a":37,"v":0.01},{"a":38,"v":0.01},{"a":39,"v":0.01},{"a":40,"v":0.01}]},"mark":{"type":"line","color":"#1b3c44","strokeWidth":1.2,"clip":true,"point":{"filled":true,"size":6,"shape":"square","color":"#1b3c44","clip":true}},"encoding":{"x":{"field":"a"},"y":{"field":"v"}}},
     {"data":{"values":[{"a":0,"v":1},{"a":12,"v":1},{"a":13,"v":0.99},{"a":14,"v":0.96},{"a":15,"v":0.9},{"a":16,"v":0.8},{"a":17,"v":0.67},{"a":18,"v":0.52},{"a":19,"v":0.37},{"a":20,"v":0.24},{"a":21,"v":0.14},{"a":22,"v":0.07},{"a":23,"v":0.03},{"a":24,"v":0.01},{"a":25,"v":0},{"a":40,"v":0}]},"mark":{"type":"line","color":"#4fd68b","strokeWidth":1.3,"clip":true,"interpolate":"monotone"},"encoding":{"x":{"field":"a"},"y":{"field":"v"}}}
    ]}
  ]}
 ]}
]}
],
"config": {
 "view": {"stroke": "#333333", "strokeWidth": 1},
 "font": "DejaVu Sans",
 "axis": {"grid": false, "domain": false, "tickColor": "#333333", "tickSize": 3.5, "labelFont": "DejaVu Sans", "labelFontSize": 10, "labelColor": "#222222", "titleFont": "DejaVu Sans", "titleFontSize": 10, "titleFontWeight": "normal", "titleColor": "#222222", "labelPadding": 2},
 "axisX": {"titlePadding": 6, "labelFlush": false},
 "axisY": {"titlePadding": 6}
}
}
